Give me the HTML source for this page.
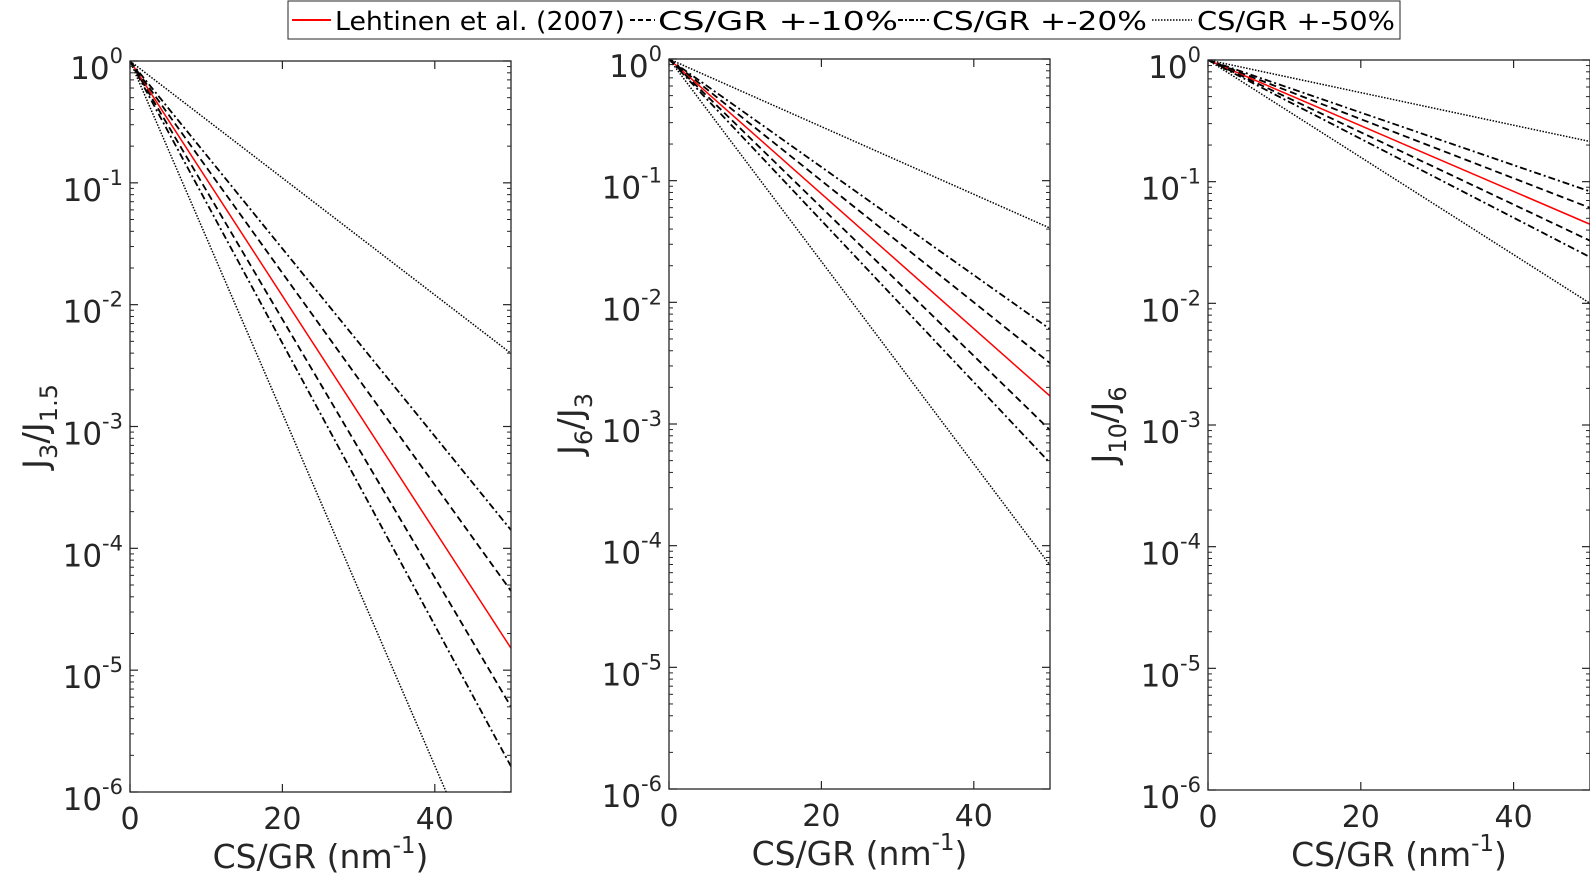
<!DOCTYPE html>
<html><head><meta charset="utf-8"><style>
html,body{margin:0;padding:0;background:#fff;overflow:hidden}
svg{display:block;font-family:"DejaVu Sans","Liberation Sans",sans-serif}
</style></head><body>
<svg id="chart" width="1590" height="875" viewBox="0 0 1590 875">
<defs>
<clipPath id="c0"><rect x="130" y="61" width="381" height="731"/></clipPath>
<clipPath id="c1"><rect x="669" y="59" width="381" height="730"/></clipPath>
<clipPath id="c2"><rect x="1208" y="60" width="382" height="730"/></clipPath>
</defs>
<g id="legend">
<rect x="288" y="1" width="1112" height="38" fill="#fff" stroke="#262626" stroke-width="1"/>
<g><line x1="292" y1="20" x2="331" y2="20" stroke="red" stroke-width="2"/><text x="335" y="30" font-size="26" fill="#000" textLength="290" lengthAdjust="spacingAndGlyphs">Lehtinen et al. (2007)</text></g>
<g><line x1="630" y1="20" x2="655" y2="20" stroke="#000" stroke-width="2" stroke-dasharray="5,3"/><text x="658" y="30" font-size="26" fill="#000" textLength="240" lengthAdjust="spacingAndGlyphs">CS/GR +-10%</text></g>
<g><line x1="898" y1="20" x2="929" y2="20" stroke="#000" stroke-width="2" stroke-dasharray="5,2,2,2"/><text x="932" y="30" font-size="26" fill="#000" textLength="215" lengthAdjust="spacingAndGlyphs">CS/GR +-20%</text></g>
<g><line x1="1152" y1="20" x2="1192" y2="20" stroke="#000" stroke-width="1.5" stroke-dasharray="1.5,1.5"/><text x="1197" y="30" font-size="26" fill="#000" textLength="198" lengthAdjust="spacingAndGlyphs">CS/GR +-50%</text></g>
</g>
</svg>
<script>
// series values: log10(J ratio) at CS/GR = 50 (all series start at 10^0 at CS/GR = 0)
const xTicks = [0, 20, 40];
const yDecades = [0, -1, -2, -3, -4, -5, -6];
const seriesNames = ['lehtinen', 'plus10', 'minus10', 'plus20', 'minus20', 'plus50', 'minus50'];
const panel1End = [-4.82, -4.35, -5.30, -3.85, -5.79, -2.40, -7.23];
const panel2End = [-2.77, -2.50, -3.05, -2.22, -3.32, -1.39, -4.16];
const panel3End = [-1.35, -1.215, -1.485, -1.08, -1.62, -0.67, -2.00];
const panelYLabels = [['J','3','1.5'], ['J','6','3'], ['J','10','6']];

const styles = [
  {c:'red', w:1.5, d:''},
  {c:'#000', w:1.8, d:'7,4'}, {c:'#000', w:1.8, d:'7,4'},
  {c:'#000', w:1.8, d:'7,3,2,3'}, {c:'#000', w:1.8, d:'7,3,2,3'},
  {c:'#000', w:1.5, d:'1.5,1.5'}, {c:'#000', w:1.5, d:'1.5,1.5'}
];
const panels = [
  {x0:130, x1:511, y0:61, y1:792, data:panel1End, clip:'c0', lx:47},
  {x0:669, x1:1050, y0:59, y1:789, data:panel2End, clip:'c1', lx:582},
  {x0:1208, x1:1590, y0:60, y1:790, data:panel3End, clip:'c2', lx:1116}
];
const NS = 'http://www.w3.org/2000/svg';
const svg = document.getElementById('chart');
function mk(tag, attrs, parent){const e=document.createElementNS(NS,tag);for(const k in attrs)e.setAttribute(k,attrs[k]);(parent||svg).appendChild(e);return e;}
panels.forEach((p, pi) => {
  const g = mk('g', {});
  
  
  const sx = v => p.x0 + (v/50)*(p.x1-p.x0);
  const sy = l => p.y0 + (0 - l)/6*(p.y1-p.y0);
  const lg = mk('g', {'clip-path':'url(#'+p.clip+')'}, g);
  p.data.forEach((end, si) => {
    const s = styles[si];
    const ln = mk('line', {x1:sx(0), y1:sy(0), x2:sx(50), y2:sy(end), stroke:s.c, 'stroke-width':s.w, 'stroke-dasharray':s.d, fill:'none'}, lg);
    
    
  });
  const frame = mk('rect', {x:p.x0, y:p.y0, width:p.x1-p.x0, height:p.y1-p.y0, fill:'none', stroke:'#262626', 'stroke-width':1.3}, g);
  
  
  xTicks.forEach(t => {
    const x = sx(t);
    mk('line', {x1:x, x2:x, y1:p.y1, y2:p.y1-8, stroke:'#262626', 'stroke-width':1.2}, g);
    mk('line', {x1:x, x2:x, y1:p.y0, y2:p.y0+8, stroke:'#262626', 'stroke-width':1.2}, g);
    const tx = mk('text', {x:x, y:p.y1+37, 'font-size':30, fill:'#262626', 'text-anchor':'middle'}, g);
    tx.textContent = t;
    
    
  });
  yDecades.forEach(d => {
    const y = sy(d);
    mk('line', {x1:p.x0, x2:p.x0+8, y1:y, y2:y, stroke:'#262626', 'stroke-width':1.2}, g);
    mk('line', {x1:p.x1, x2:p.x1-8, y1:y, y2:y, stroke:'#262626', 'stroke-width':1.2}, g);
    if (d > -6) for (let m=2; m<10; m++) {
      const ym = sy(d - 1 + Math.log10(m));
      mk('line', {x1:p.x0, x2:p.x0+4, y1:ym, y2:ym, stroke:'#262626', 'stroke-width':1}, g);
      mk('line', {x1:p.x1, x2:p.x1-4, y1:ym, y2:ym, stroke:'#262626', 'stroke-width':1}, g);
    }
    const tx = mk('text', {x:p.x0-7, y:y+18, 'font-size':31, fill:'#262626', 'text-anchor':'end'}, g);
    
    
    const a = mk('tspan', {}, tx); a.textContent = '10';
    const b = mk('tspan', {dy:-16, 'font-size':21}, tx); b.textContent = String(d);
  });
  const xl = mk('text', {x:(p.x0+p.x1)/2, y:p.y1+76, 'font-size':33, fill:'#262626', 'text-anchor':'middle'}, g);
  
  
  let t1 = mk('tspan', {}, xl); t1.textContent = 'CS/GR (nm';
  let t2 = mk('tspan', {dy:-15, 'font-size':23}, xl); t2.textContent = '-1';
  let t3 = mk('tspan', {dy:15}, xl); t3.textContent = ')';
  const cy = (p.y0+p.y1)/2 - 0;
  const yl = mk('text', {x:0, y:0, 'font-size':34, fill:'#262626', 'text-anchor':'middle', transform:'translate('+p.lx+','+cy+') rotate(-90)'}, g);
  
  
  const L = panelYLabels[pi];
  let u1 = mk('tspan', {}, yl); u1.textContent = L[0];
  let u2 = mk('tspan', {dy:10, 'font-size':24}, yl); u2.textContent = L[1];
  let u3 = mk('tspan', {dy:-10}, yl); u3.textContent = '/' + L[0];
  let u4 = mk('tspan', {dy:10, 'font-size':24}, yl); u4.textContent = L[2];
});
</script>
</body></html>
